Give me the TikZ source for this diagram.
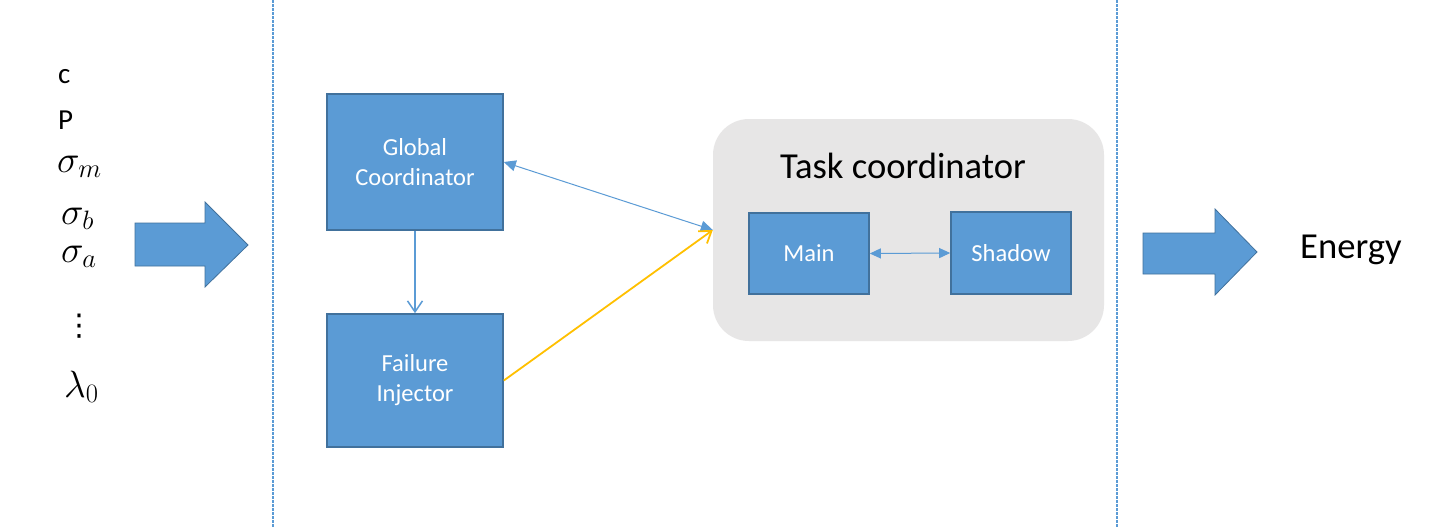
\documentclass[tikz,border=0pt]{standalone}
\usepackage{fix-cm}
\usepackage{fontspec}
\setmainfont{Carlito}
\newfontfamily\dejavu{DejaVu Sans}
\usetikzlibrary{arrows.meta}
\definecolor{boxblue}{HTML}{5B9BD5}
\definecolor{boxedge}{HTML}{41719C}
\definecolor{tcgray}{HTML}{E7E6E6}
\definecolor{gold}{HTML}{FFC000}
\begin{document}
\begin{tikzpicture}[x=1pt,y=-1pt,
  blockbox/.style={draw=boxedge, line width=1.6pt, fill=boxblue, text=white, inner sep=0pt, align=center, font=\fontsize{24.5}{30}\selectfont},
  bigtxt/.style={inner sep=0pt, font=\fontsize{36.6}{44}\selectfont},
  lefttxt/.style={inner sep=0pt, anchor=base west, font=\fontsize{29}{34}\selectfont},
  mathtxt/.style={inner sep=0pt, anchor=base west, font=\fontsize{38}{44}\selectfont},
  fatarrow/.style={fill=boxblue, draw=boxedge, line width=0.8pt},
  sepline/.style={draw=boxblue, line width=1.1pt, dash pattern=on 3pt off 1pt},
  bluelink/.style={draw=boxblue, line width=1.5pt},
  thinlink/.style={draw=boxblue, line width=1pt},
  goldlink/.style={draw=gold, line width=1.8pt}]
\useasboundingbox (0,0) rectangle (1432,528);
\fill[white] (0,0) rectangle (1432,528);

% separators
\draw[sepline] (273,0) -- (273,528);
\draw[sepline] (1117,0) -- (1117,528);

% left inputs
\node[lefttxt] (ic) at (58,83) {c};
\node[lefttxt] (ip) at (58,129) {P};
\node[mathtxt] (ism) at (57,172) {$\sigma_m$};
\node[mathtxt] (isb) at (61,224) {$\sigma_b$};
\node[mathtxt] (isa) at (61,262) {$\sigma_a$};
\node[inner sep=0pt, font=\dejavu\fontsize{30}{36}\selectfont] (idots) at (79,326) {⋮};
\node[mathtxt] (il) at (64,397) {$\lambda_0$};

% fat arrows
\draw[fatarrow] (135,223) -- (205,223) -- (205,202) -- (248,245) -- (205,287) -- (205,266) -- (135,266) -- cycle;
\draw[fatarrow] (1143,233) -- (1215,233) -- (1215,209) -- (1257,252) -- (1215,295) -- (1215,274) -- (1143,274) -- cycle;

% task coordinator container
\node[fill=tcgray, rounded corners=36pt, minimum width=391pt, minimum height=222pt, inner sep=0pt] (tc) at (908.5,230) {};
\node[bigtxt, anchor=base] (tctitle) at (903,178) {Task coordinator};

% blocks
\node[blockbox, minimum width=176pt, minimum height=136pt] (gc) at (415,162) {Global\\Coordinator};
\node[blockbox, minimum width=176pt, minimum height=133pt] (fi) at (415,380.5) {Failure\\Injector};
\node[blockbox, minimum width=120pt, minimum height=81pt] (main) at (809,253.5) {Main};
\node[blockbox, minimum width=120pt, minimum height=82pt] (shadow) at (1011,253) {Shadow};

% output
\node[bigtxt, anchor=base west] (energy) at (1300,258) {Energy};

% connectors
\draw[bluelink, -{Straight Barb[length=11pt,width=15pt]}] (gc.south) -- (fi.north);
\draw[thinlink, {Triangle[length=12pt,width=11pt]}-{Triangle[length=12pt,width=11pt]}] (gc.east) -- (tc.west);
\draw[goldlink, -{Straight Barb[length=11pt,width=15pt]}] (fi.east) -- (tc.west);
\draw[thinlink, {Triangle[length=11pt,width=10pt]}-{Triangle[length=11pt,width=10pt]}] (main.east) -- (shadow.west);
\end{tikzpicture}
\end{document}
